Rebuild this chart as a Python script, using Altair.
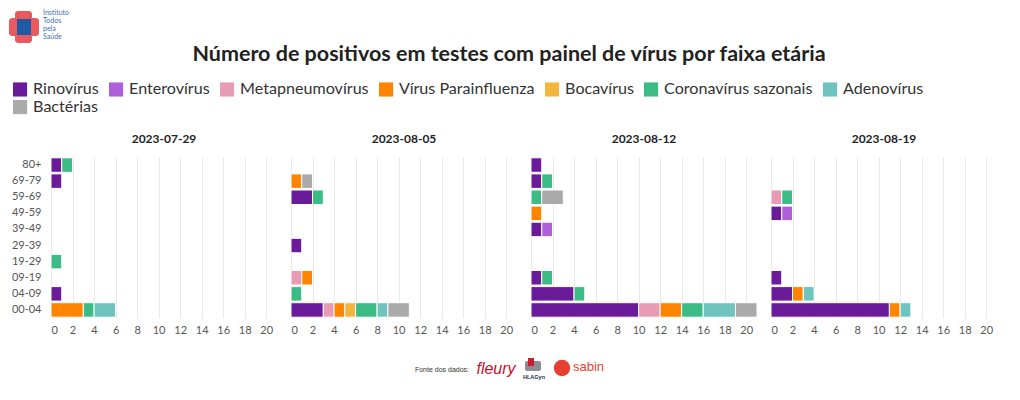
import altair as alt
import pandas as pd

# ---------------- data ----------------
dates = ["2023-07-29", "2023-08-05", "2023-08-12", "2023-08-19"]
ages = ["80+", "69-79", "59-69", "49-59", "39-49", "29-39", "19-29", "09-19", "04-09", "00-04"]
viruses = ["Rinovírus", "Enterovírus", "Metapneumovírus", "Vírus Parainfluenza",
           "Bocavírus", "Coronavírus sazonais", "Adenovírus", "Bactérias"]
colors = ["#6a1b9a", "#b05fdb", "#e89bb5", "#ff8400", "#f2b640", "#3dbb84", "#6fc4c0", "#aaaaaa"]

# counts per date (rows) and age group (columns, same order as `ages`)
rinovirus = [[1, 1, 0, 0, 0, 0, 0, 0, 1, 0],
             [0, 0, 2, 0, 0, 1, 0, 0, 0, 3],
             [1, 1, 0, 0, 1, 0, 0, 1, 4, 10],
             [0, 0, 0, 1, 0, 0, 0, 1, 2, 11]]
enterovirus = [[0, 0, 0, 0, 0, 0, 0, 0, 0, 0],
               [0, 0, 0, 0, 0, 0, 0, 0, 0, 0],
               [0, 0, 0, 0, 1, 0, 0, 0, 0, 0],
               [0, 0, 0, 1, 0, 0, 0, 0, 0, 0]]
metapneumovirus = [[0, 0, 0, 0, 0, 0, 0, 0, 0, 0],
                   [0, 0, 0, 0, 0, 0, 0, 1, 0, 1],
                   [0, 0, 0, 0, 0, 0, 0, 0, 0, 2],
                   [0, 0, 1, 0, 0, 0, 0, 0, 0, 0]]
parainfluenza = [[0, 0, 0, 0, 0, 0, 0, 0, 0, 3],
                 [0, 1, 0, 0, 0, 0, 0, 1, 0, 1],
                 [0, 0, 0, 1, 0, 0, 0, 0, 0, 2],
                 [0, 0, 0, 0, 0, 0, 0, 0, 1, 1]]
bocavirus = [[0, 0, 0, 0, 0, 0, 0, 0, 0, 0],
             [0, 0, 0, 0, 0, 0, 0, 0, 0, 1],
             [0, 0, 0, 0, 0, 0, 0, 0, 0, 0],
             [0, 0, 0, 0, 0, 0, 0, 0, 0, 0]]
coronavirus = [[1, 0, 0, 0, 0, 0, 1, 0, 0, 1],
               [0, 0, 1, 0, 0, 0, 0, 0, 1, 2],
               [0, 1, 1, 0, 0, 0, 0, 1, 1, 2],
               [0, 0, 1, 0, 0, 0, 0, 0, 0, 0]]
adenovirus = [[0, 0, 0, 0, 0, 0, 0, 0, 0, 2],
              [0, 0, 0, 0, 0, 0, 0, 0, 0, 1],
              [0, 0, 0, 0, 0, 0, 0, 0, 0, 3],
              [0, 0, 0, 0, 0, 0, 0, 0, 1, 1]]
bacterias = [[0, 0, 0, 0, 0, 0, 0, 0, 0, 0],
             [0, 1, 0, 0, 0, 0, 0, 0, 0, 2],
             [0, 0, 2, 0, 0, 0, 0, 0, 0, 2],
             [0, 0, 0, 0, 0, 0, 0, 0, 0, 0]]

x_ticks = [0, 2, 4, 6, 8, 10, 12, 14, 16, 18, 20]

title_text = "Número de positivos em testes com painel de vírus por faixa etária"
logo_lines = ["Instituto", "Todos", "pela", "Saúde"]
source_text = "Fonte dos dados:"

series = [rinovirus, enterovirus, metapneumovirus, parainfluenza,
          bocavirus, coronavirus, adenovirus, bacterias]

rows = []
for vi, (name, vals) in enumerate(zip(viruses, series)):
    for di, d in enumerate(dates):
        for ai, a in enumerate(ages):
            c = vals[di][ai]
            if c > 0:
                rows.append({"date": d, "age": a, "virus": name, "vorder": vi, "count": c})
df = pd.DataFrame(rows)

FONT = "Lato"

# ---------------- main faceted bars ----------------
bars = alt.Chart(df).mark_bar(stroke="white", strokeWidth=1).encode(
    x=alt.X("count:Q", stack="zero",
            scale=alt.Scale(domain=[0, 21], nice=False),
            axis=alt.Axis(values=x_ticks, title=None, grid=True, gridColor="#e9e9e9",
                          domain=False, ticks=False, labelFontSize=11, labelColor="#555",
                          labelPadding=5, labelFont=FONT)),
    y=alt.Y("age:N", sort=ages, scale=alt.Scale(domain=ages, paddingInner=0.1, paddingOuter=0.05),
            axis=alt.Axis(title=None, domain=False, ticks=False, labelFontSize=11,
                          labelColor="#555", labelPadding=9, labelFont=FONT)),
    color=alt.Color("virus:N", scale=alt.Scale(domain=viruses, range=colors),
                    legend=alt.Legend(orient="none", legendX=-39, legendY=-76,
                                      direction="horizontal", columns=7, title=None,
                                      symbolType="square", symbolSize=200,
                                      symbolStrokeWidth=0, symbolOpacity=1,
                                      labelFontSize=16.1, labelFont=FONT, labelColor="#333",
                                      labelOffset=5, columnPadding=9, rowPadding=1)),
    order=alt.Order("vorder:Q"),
).properties(width=226, height=161)

main = bars.facet(
    column=alt.Column("date:N", sort=dates,
                      header=alt.Header(title=None, labelFontWeight="bold", labelFontSize=12,
                                        labelFont=FONT, labelColor="#222", labelPadding=10)),
    spacing=12,
)

# ---------------- header (logo + title) ----------------
one = pd.DataFrame({"k": [0]})
hb = alt.Chart(one)
cross_v = hb.mark_rect(color="#e85a5e", cornerRadius=3).encode(
    x=alt.value(-36), x2=alt.value(-19), y=alt.value(0), y2=alt.value(32))
cross_h = hb.mark_rect(color="#e85a5e", cornerRadius=3).encode(
    x=alt.value(-42), x2=alt.value(-12), y=alt.value(7), y2=alt.value(25))
cross_c = hb.mark_rect(color="#1f5aa6").encode(
    x=alt.value(-34), x2=alt.value(-20), y=alt.value(8), y2=alt.value(24))
logo_df = pd.DataFrame({"line": logo_lines, "i": list(range(len(logo_lines)))})
logo_txt = alt.Chart(logo_df).mark_text(align="left", baseline="middle", fontSize=7,
                                        font=FONT, color="#3a6fb5").encode(
    text="line:N",
    x=alt.value(-8),
    y=alt.Y("i:O", scale=alt.Scale(range=[2, 26], padding=0), axis=None),
)
title = hb.mark_text(align="center", baseline="middle", fontSize=21.5, fontWeight="bold",
                     font=FONT, color="#222").encode(
    text=alt.value(title_text), x=alt.value(458), y=alt.value(44))
header = alt.layer(cross_v, cross_h, cross_c, logo_txt, title).properties(width=946, height=69)

# ---------------- footer (sources) ----------------
fb = alt.Chart(one)
f_src = fb.mark_text(align="right", baseline="middle", fontSize=7, font="Liberation Sans",
                     color="#333").encode(text=alt.value(source_text), x=alt.value(418), y=alt.value(34))
f_fleury = fb.mark_text(align="center", baseline="middle", fontSize=16, font="Liberation Sans",
                        fontStyle="italic", color="#c8102e").encode(
    text=alt.value("fleury"), x=alt.value(445), y=alt.value(33))
f_hla1 = fb.mark_rect(color="#8a8f96", cornerRadius=2).encode(
    x=alt.value(474), x2=alt.value(490), y=alt.value(25), y2=alt.value(35))
f_hla2 = fb.mark_rect(color="#c8202e").encode(
    x=alt.value(477), x2=alt.value(483), y=alt.value(22), y2=alt.value(30))
f_hla3 = fb.mark_text(align="center", baseline="middle", fontSize=5.5, fontWeight="bold",
                      font="Liberation Sans", color="#1a2a5a").encode(
    text=alt.value("HLAGyn"), x=alt.value(483), y=alt.value(41))
f_sabin_c = fb.mark_circle(color="#e8402f", opacity=1, size=270).encode(
    x=alt.value(511), y=alt.value(32))
f_sabin_t = fb.mark_text(align="left", baseline="middle", fontSize=13, font="Liberation Sans",
                         color="#e8402f").encode(text=alt.value("sabin"), x=alt.value(522), y=alt.value(31))
footer = alt.layer(f_src, f_fleury, f_hla1, f_hla2, f_hla3, f_sabin_c, f_sabin_t).properties(
    width=946, height=48)

chart = alt.vconcat(header, main, footer, spacing=0).resolve_legend(
    color="independent"
).properties(
    padding={"left": 0, "top": 0, "right": 5, "bottom": 0}
).configure(font=FONT).configure_view(stroke="transparent")

chart.save("out.html", embed_options={"renderer": "svg", "actions": False})
